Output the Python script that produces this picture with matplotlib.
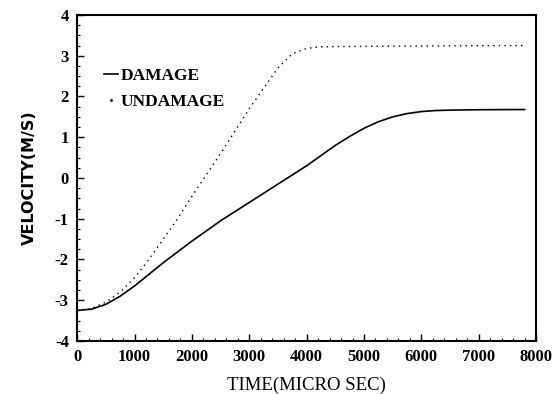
import matplotlib
matplotlib.use("Agg")
import matplotlib.pyplot as plt
from matplotlib.ticker import MultipleLocator
from matplotlib.lines import Line2D

plt.rcParams["axes.unicode_minus"] = False

# Time (microseconds) and velocity (m/s) for both cases
t_damage = [0, 250, 500, 750, 1000, 1500, 2000, 2500, 3000, 3500, 4000,
            4250, 4500, 4750, 5000, 5250, 5500, 5750, 6000, 6250, 6500,
            7000, 7800]
v_damage = [-3.25, -3.22, -3.1, -2.9, -2.65, -2.08, -1.55, -1.05, -0.6,
            -0.15, 0.3, 0.55, 0.8, 1.02, 1.22, 1.38, 1.5, 1.58, 1.63,
            1.655, 1.665, 1.675, 1.68]

t_undamage = [0, 250, 500, 750, 1000, 1250, 1500, 1750, 2000, 2500, 3000,
              3500, 3750, 4000, 4250, 5000, 6000, 7800]
v_undamage = [-3.25, -3.2, -3.05, -2.8, -2.45, -2.0, -1.5, -1.0, -0.45,
              0.6, 1.7, 2.7, 3.05, 3.18, 3.22, 3.23, 3.24, 3.25]

x_ticks = [0, 1000, 2000, 3000, 4000, 5000, 6000, 7000, 8000]
y_ticks = [-4, -3, -2, -1, 0, 1, 2, 3, 4]

serif = "Liberation Serif"

fig = plt.figure(figsize=(5.55, 3.94), dpi=100)
ax = fig.add_axes([0.139, 0.1345, 0.827, 0.8275])

ax.plot(t_damage, v_damage, color="black", lw=1.2)
ax.plot(t_undamage, v_undamage, color="black", lw=1.0, linestyle=(0, (1, 3)))

ax.set_xlim(0, 8000)
ax.set_ylim(-4, 4)
ax.set_xticks(x_ticks)
ax.set_yticks(y_ticks)
ax.xaxis.set_minor_locator(MultipleLocator(200))
ax.yaxis.set_minor_locator(MultipleLocator(0.25))
ax.tick_params(which="both", direction="in", top=False, right=False)
ax.tick_params(which="major", length=5, width=1, pad=6)
ax.tick_params(which="minor", length=2.5, width=0.8)

for lab in ax.get_xticklabels() + ax.get_yticklabels():
    lab.set_fontfamily(serif)
    lab.set_fontweight("bold")
    lab.set_fontsize(12)

for s in ax.spines.values():
    s.set_linewidth(1.5)

ax.set_xlabel("TIME(MICRO SEC)", fontfamily=serif, fontsize=13.5, labelpad=8)
ax.set_ylabel("VELOCITY(M/S)", fontfamily="DejaVu Sans", fontweight="bold",
              fontsize=11.5, labelpad=13)

handles = [Line2D([], [], color="black", lw=1.2),
           Line2D([], [], color="black", lw=0, marker=".", markersize=2)]
leg = ax.legend(handles, ["DAMAGE", "UNDAMAGE"], loc="upper left",
                bbox_to_anchor=(0.025, 0.885), frameon=False, handlelength=0.8,
                handletextpad=0.15, labelspacing=0.55,
                prop={"family": serif, "weight": "bold", "size": 12.5})

fig.savefig("out.png", dpi=100)
